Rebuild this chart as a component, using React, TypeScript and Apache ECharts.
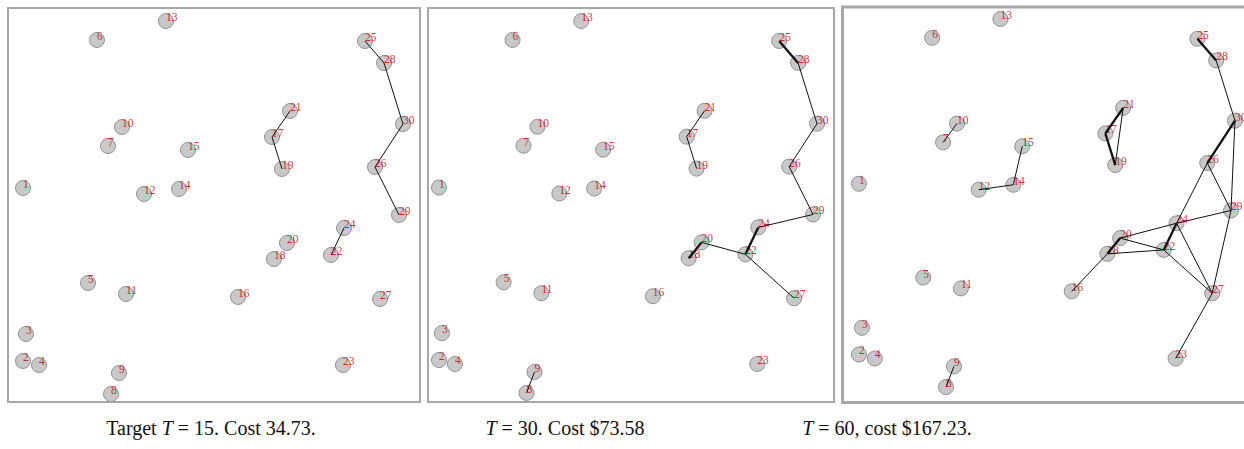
import React, { useEffect, useRef } from "react";
import * as echarts from "echarts";

// Node ids and positions (layout units, y pointing down)
const nodeIds = [1, 2, 3, 4, 5, 6, 7, 8, 9, 10, 11, 12, 13, 14, 15, 16, 17, 18, 19, 20, 21, 22, 23, 24, 25, 26, 27, 28, 29, 30];
const nodeX = [23, 23, 26, 39, 88, 97, 108, 111, 119, 122, 126, 144, 166, 179, 188, 238, 272, 274, 282, 287, 290, 331, 343, 344, 365, 375, 380, 384, 399, 403];
const nodeY = [188, 361, 334, 365, 283, 40, 146, 394, 373, 127, 294, 194, 21, 189, 150, 297, 137, 259, 169, 243, 111, 255, 365, 228, 41, 167, 299, 63, 215, 124];

// Edges per target T
const edgesT15 = [[25, 28], [28, 30], [30, 26], [26, 29], [21, 17], [17, 19], [24, 22]];
const heavyT15: number[][] = [];
const edgesT30 = [[25, 28], [28, 30], [30, 26], [26, 29], [29, 24], [24, 22], [22, 20], [20, 18], [22, 27], [21, 17], [17, 19], [9, 8]];
const heavyT30 = [[25, 28], [24, 22], [20, 18]];
const edgesT60 = [
  [25, 28], [28, 30], [30, 26], [30, 29], [26, 29], [26, 24], [24, 22], [20, 24], [24, 29],
  [29, 27], [24, 27], [22, 27], [27, 23], [20, 22], [18, 22], [20, 18], [18, 16],
  [21, 17], [17, 19], [21, 19], [15, 14], [14, 12], [10, 7], [9, 8],
];
const heavyT60 = [[25, 28], [30, 26], [24, 22], [20, 18], [21, 17], [17, 19]];

const captions = [
  ["Target ", "T", " = 15. Cost 34.73."],
  ["", "T", " = 30. Cost $73.58"],
  ["", "T", " = 60, cost $167.23."],
];

const panelEdges = [edgesT15, edgesT30, edgesT60];
const panelHeavy = [heavyT15, heavyT30, heavyT60];

// Layout of panels (pixels)
const grids = [
  { left: 10, top: 10, width: 400, height: 390 },
  { left: 426.05, top: 10.03, width: 397.9, height: 388.9 },
  { left: 846.1, top: 8.17, width: 395.8, height: 384.8 },
];
const frames = [
  { x: 8, y: 8, width: 412, height: 394, lw: 2 },
  { x: 428, y: 8, width: 406, height: 394, lw: 2 },
  { x: 842.5, y: 7, width: 420, height: 395.5, lw: 3 },
];
const captionX = [211, 565, 887];

function isHeavy(list: number[][], a: number, b: number) {
  return list.some((e) => (e[0] === a && e[1] === b) || (e[0] === b && e[1] === a));
}

export default function App() {
  const ref = useRef<HTMLDivElement>(null);
  useEffect(() => {
    if (!ref.current) return;
    const chart = echarts.init(ref.current, undefined, { renderer: "svg" });
    const nodeData = nodeIds.map((id, i) => [nodeX[i], nodeY[i], id]);
    const pos = (id: number) => {
      const i = nodeIds.indexOf(id);
      return [nodeX[i], nodeY[i]];
    };
    const series: any[] = [];
    for (let p = 0; p < 3; p++) {
      series.push({
        type: "scatter",
        xAxisIndex: p,
        yAxisIndex: p,
        symbol: "circle",
        symbolSize: 15,
        z: 2,
        itemStyle: { color: "#bababa", borderColor: "#7e7e7e", borderWidth: 1 },
        label: {
          show: true,
          formatter: (q: any) => String(q.value[2]),
          position: [8, 4],
          align: "left",
          verticalAlign: "middle",
          color: "#c00000",
          fontFamily: "Liberation Serif",
          fontSize: 11.5,
        },
        emphasis: { disabled: true },
        data: nodeData,
      });
      series.push({
        type: "lines",
        coordinateSystem: "cartesian2d",
        xAxisIndex: p,
        yAxisIndex: p,
        z: 3,
        silent: true,
        data: panelEdges[p].map(([a, b]) => ({
          coords: [pos(a), pos(b)],
          lineStyle: {
            color: "#111111",
            width: isHeavy(panelHeavy[p], a, b) ? 2.3 : 1,
            opacity: 1,
          },
        })),
      });
    }
    const graphic: any[] = [];
    frames.forEach((f) => {
      graphic.push({
        type: "rect",
        shape: { x: f.x, y: f.y, width: f.width, height: f.height },
        style: { fill: "none", stroke: "#a6a6a6", lineWidth: f.lw },
        z: 10,
        silent: true,
      });
    });
    captions.forEach((c, i) => {
      graphic.push({
        type: "text",
        x: captionX[i],
        y: 428,
        style: {
          text: (c[0] ? "{a|" + c[0] + "}" : "") + "{i|" + c[1] + "}{a|" + c[2] + "}",
          align: "center",
          verticalAlign: "middle",
          fill: "#111111",
          fontFamily: "Liberation Serif",
          fontSize: 20,
          rich: {
            a: { fontFamily: "Liberation Serif", fontSize: 20, fill: "#111111" },
            i: { fontFamily: "Liberation Serif", fontSize: 20, fontStyle: "italic", fill: "#111111" },
          },
        },
        silent: true,
      });
    });
    chart.setOption({
      animation: false,
      backgroundColor: "#ffffff",
      grid: grids.map((g) => ({ ...g, containLabel: false, show: false })),
      xAxis: grids.map((_, i) => ({ type: "value", gridIndex: i, min: 10, max: 410, show: false })),
      yAxis: grids.map((_, i) => ({ type: "value", gridIndex: i, min: 10, max: 400, inverse: true, show: false })),
      series,
      graphic,
    });
    return () => chart.dispose();
  }, []);
  return <div ref={ref} style={{ position: "fixed", left: 0, top: 0, width: 1244, height: 449 }} />;
}
